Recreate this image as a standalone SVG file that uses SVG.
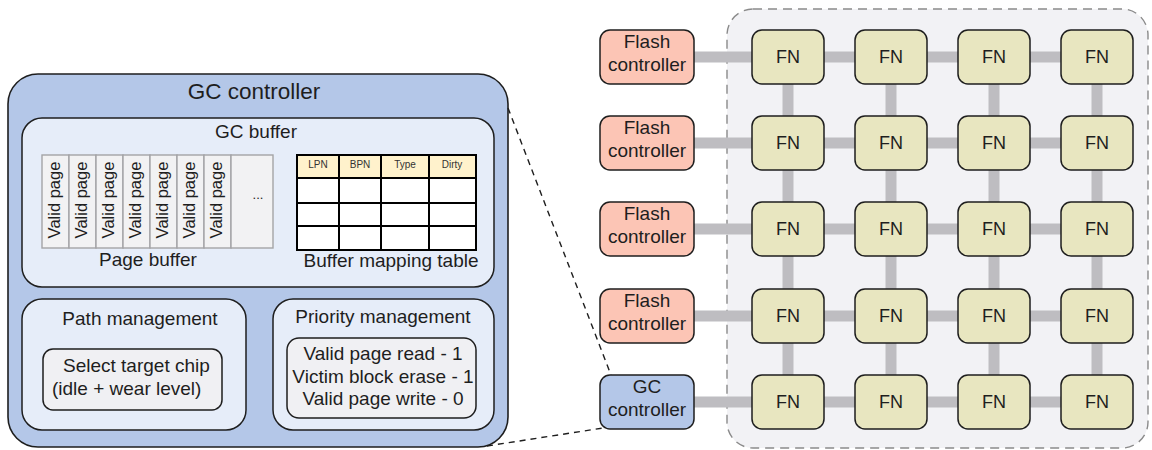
<svg xmlns="http://www.w3.org/2000/svg" width="1152" height="450" viewBox="0 0 1152 450">
  <style>
    text { font-family: "Liberation Sans", Arial, sans-serif; fill: #1e1e1e; }
    .t22 { font-size: 22.5px; text-anchor: middle; }
    .t19 { font-size: 19px; text-anchor: middle; }
    .t18 { font-size: 18px; text-anchor: middle; }
    .vp { font-size: 16.5px; text-anchor: middle; }
    .hd { font-size: 10px; text-anchor: middle; fill: #333; }
    .outer { fill: #b4c7e8; stroke: #1e1e1e; stroke-width: 1.6; }
    .panel { fill: #e6edf9; stroke: #1e1e1e; stroke-width: 1.5; }
    .inner { fill: #f0f0f3; stroke: #1e1e1e; stroke-width: 1.5; }
    .page { fill: #f2f2f3; stroke: #a4a4a6; stroke-width: 1.4; }
    .tbl { fill: #ffffff; stroke: #000; stroke-width: 2; }
    .tblh { fill: #fff2cc; stroke: #000; stroke-width: 2; }
    .fc { fill: #fcc5b5; stroke: #1e1e1e; stroke-width: 1.5; }
    .gc { fill: #b4c7e8; stroke: #1e1e1e; stroke-width: 1.5; }
    .fn { fill: #e8e6c0; stroke: #1e1e1e; stroke-width: 1.5; }
    .bar { stroke: #bebdc1; stroke-width: 11; fill: none; }
    .zoomline { stroke: #1e1e1e; stroke-width: 1.4; stroke-dasharray: 6 5; fill: none; }
  </style>

  <!-- Flash node array enclosure -->
  <rect x="727" y="9" width="421" height="439" rx="26" fill="#f2f2f5" stroke="#8a8a8a" stroke-width="1.4" stroke-dasharray="9 6"/>

  <!-- GC controller detail -->
  <g id="gc-controller-detail">
    <rect class="outer" x="8" y="74" width="500" height="373" rx="30"/>
    <text class="t22" x="254" y="99">GC controller</text>

    <g id="gc-buffer">
      <rect class="panel" x="22" y="118" width="472" height="169" rx="20"/>
      <text class="t19" x="256" y="138">GC buffer</text>

      <g id="page-buffer">
        <rect class="page" x="42" y="155" width="27" height="93"/>
        <rect class="page" x="69" y="155" width="27" height="93"/>
        <rect class="page" x="96" y="155" width="27" height="93"/>
        <rect class="page" x="123" y="155" width="27" height="93"/>
        <rect class="page" x="150" y="155" width="27" height="93"/>
        <rect class="page" x="177" y="155" width="27" height="93"/>
        <rect class="page" x="204" y="155" width="27" height="93"/>
        <rect class="page" x="231" y="155" width="42" height="93"/>
        <text class="vp" transform="translate(59.5 200) rotate(-90)">Valid page</text>
        <text class="vp" transform="translate(86.5 200) rotate(-90)">Valid page</text>
        <text class="vp" transform="translate(113.5 200) rotate(-90)">Valid page</text>
        <text class="vp" transform="translate(140.5 200) rotate(-90)">Valid page</text>
        <text class="vp" transform="translate(167.5 200) rotate(-90)">Valid page</text>
        <text class="vp" transform="translate(194.5 200) rotate(-90)">Valid page</text>
        <text class="vp" transform="translate(221.5 200) rotate(-90)">Valid page</text>
        <text x="258" y="199" style="font-size:13px;text-anchor:middle">...</text>
        <text class="t19" x="148" y="266">Page buffer</text>
      </g>

      <g id="buffer-mapping-table">
        <rect class="tblh" x="297" y="155" width="42" height="23"/>
        <rect class="tblh" x="339" y="155" width="42" height="23"/>
        <rect class="tblh" x="381" y="155" width="48" height="23"/>
        <rect class="tblh" x="429" y="155" width="47" height="23"/>
        <rect class="tbl" x="297" y="178" width="42" height="25"/>
        <rect class="tbl" x="339" y="178" width="42" height="25"/>
        <rect class="tbl" x="381" y="178" width="48" height="25"/>
        <rect class="tbl" x="429" y="178" width="47" height="25"/>
        <rect class="tbl" x="297" y="203" width="42" height="23"/>
        <rect class="tbl" x="339" y="203" width="42" height="23"/>
        <rect class="tbl" x="381" y="203" width="48" height="23"/>
        <rect class="tbl" x="429" y="203" width="47" height="23"/>
        <rect class="tbl" x="297" y="226" width="42" height="24"/>
        <rect class="tbl" x="339" y="226" width="42" height="24"/>
        <rect class="tbl" x="381" y="226" width="48" height="24"/>
        <rect class="tbl" x="429" y="226" width="47" height="24"/>
        <text class="hd" x="318" y="168">LPN</text>
        <text class="hd" x="360" y="168">BPN</text>
        <text class="hd" x="405" y="168">Type</text>
        <text class="hd" x="452" y="168">Dirty</text>
        <text class="t19" x="391" y="267">Buffer mapping table</text>
      </g>
    </g>

    <g id="path-management">
      <rect class="panel" x="22" y="299" width="224" height="131" rx="20"/>
      <text class="t19" x="140" y="325">Path management</text>
      <rect class="inner" x="43" y="349" width="179" height="61" rx="10"/>
      <text x="63" y="372" style="font-size:19px">Select target chip</text>
      <text x="52" y="395" style="font-size:19px">(idle + wear level)</text>
    </g>

    <g id="priority-management">
      <rect class="panel" x="273" y="299" width="221" height="131" rx="20"/>
      <text class="t19" x="383" y="323">Priority management</text>
      <rect class="inner" x="287" y="338" width="189" height="80" rx="12"/>
      <text class="t19" x="383" y="360">Valid page read - 1</text>
      <text class="t19" x="383" y="383">Victim block erase - 1</text>
      <text class="t19" x="383" y="405">Valid page write - 0</text>
    </g>
  </g>

  <!-- Connectors: dashed detail callout and interconnect bars -->
  <g id="connectors">
    <line class="zoomline" x1="508" y1="108" x2="611" y2="375"/>
    <line class="zoomline" x1="487" y1="446" x2="603" y2="428"/>
    <line class="bar" x1="694" y1="57" x2="1097" y2="57"/>
    <line class="bar" x1="694" y1="143" x2="1097" y2="143"/>
    <line class="bar" x1="694" y1="229" x2="1097" y2="229"/>
    <line class="bar" x1="694" y1="316" x2="1097" y2="316"/>
    <line class="bar" x1="694" y1="402" x2="1097" y2="402"/>
    <line class="bar" x1="788" y1="57" x2="788" y2="402"/>
    <line class="bar" x1="891" y1="57" x2="891" y2="402"/>
    <line class="bar" x1="994" y1="57" x2="994" y2="402"/>
    <line class="bar" x1="1097" y1="57" x2="1097" y2="402"/>
  </g>

  <!-- Flash controllers -->
  <g id="flash-controller-1"><rect class="fc" x="600" y="30" width="94" height="54" rx="10"/><text class="t19" x="647" y="48">Flash</text><text class="t19" x="647" y="71">controller</text></g>
  <g id="flash-controller-2"><rect class="fc" x="600" y="116" width="94" height="54" rx="10"/><text class="t19" x="647" y="134">Flash</text><text class="t19" x="647" y="157">controller</text></g>
  <g id="flash-controller-3"><rect class="fc" x="600" y="202" width="94" height="54" rx="10"/><text class="t19" x="647" y="220">Flash</text><text class="t19" x="647" y="243">controller</text></g>
  <g id="flash-controller-4"><rect class="fc" x="600" y="289" width="94" height="54" rx="10"/><text class="t19" x="647" y="307">Flash</text><text class="t19" x="647" y="330">controller</text></g>
  <g id="gc-controller"><rect class="gc" x="600" y="375" width="94" height="54" rx="10"/><text class="t19" x="647" y="393">GC</text><text class="t19" x="647" y="416">controller</text></g>

  <!-- Flash nodes, 5 rows x 4 columns -->
  <g id="fn-1-1"><rect class="fn" x="752" y="30" width="72" height="54" rx="10"/><text class="t18" x="788" y="63">FN</text></g>
  <g id="fn-1-2"><rect class="fn" x="855" y="30" width="72" height="54" rx="10"/><text class="t18" x="891" y="63">FN</text></g>
  <g id="fn-1-3"><rect class="fn" x="958" y="30" width="72" height="54" rx="10"/><text class="t18" x="994" y="63">FN</text></g>
  <g id="fn-1-4"><rect class="fn" x="1061" y="30" width="72" height="54" rx="10"/><text class="t18" x="1097" y="63">FN</text></g>
  <g id="fn-2-1"><rect class="fn" x="752" y="116" width="72" height="54" rx="10"/><text class="t18" x="788" y="149">FN</text></g>
  <g id="fn-2-2"><rect class="fn" x="855" y="116" width="72" height="54" rx="10"/><text class="t18" x="891" y="149">FN</text></g>
  <g id="fn-2-3"><rect class="fn" x="958" y="116" width="72" height="54" rx="10"/><text class="t18" x="994" y="149">FN</text></g>
  <g id="fn-2-4"><rect class="fn" x="1061" y="116" width="72" height="54" rx="10"/><text class="t18" x="1097" y="149">FN</text></g>
  <g id="fn-3-1"><rect class="fn" x="752" y="202" width="72" height="54" rx="10"/><text class="t18" x="788" y="235">FN</text></g>
  <g id="fn-3-2"><rect class="fn" x="855" y="202" width="72" height="54" rx="10"/><text class="t18" x="891" y="235">FN</text></g>
  <g id="fn-3-3"><rect class="fn" x="958" y="202" width="72" height="54" rx="10"/><text class="t18" x="994" y="235">FN</text></g>
  <g id="fn-3-4"><rect class="fn" x="1061" y="202" width="72" height="54" rx="10"/><text class="t18" x="1097" y="235">FN</text></g>
  <g id="fn-4-1"><rect class="fn" x="752" y="289" width="72" height="54" rx="10"/><text class="t18" x="788" y="322">FN</text></g>
  <g id="fn-4-2"><rect class="fn" x="855" y="289" width="72" height="54" rx="10"/><text class="t18" x="891" y="322">FN</text></g>
  <g id="fn-4-3"><rect class="fn" x="958" y="289" width="72" height="54" rx="10"/><text class="t18" x="994" y="322">FN</text></g>
  <g id="fn-4-4"><rect class="fn" x="1061" y="289" width="72" height="54" rx="10"/><text class="t18" x="1097" y="322">FN</text></g>
  <g id="fn-5-1"><rect class="fn" x="752" y="375" width="72" height="54" rx="10"/><text class="t18" x="788" y="408">FN</text></g>
  <g id="fn-5-2"><rect class="fn" x="855" y="375" width="72" height="54" rx="10"/><text class="t18" x="891" y="408">FN</text></g>
  <g id="fn-5-3"><rect class="fn" x="958" y="375" width="72" height="54" rx="10"/><text class="t18" x="994" y="408">FN</text></g>
  <g id="fn-5-4"><rect class="fn" x="1061" y="375" width="72" height="54" rx="10"/><text class="t18" x="1097" y="408">FN</text></g>
</svg>
